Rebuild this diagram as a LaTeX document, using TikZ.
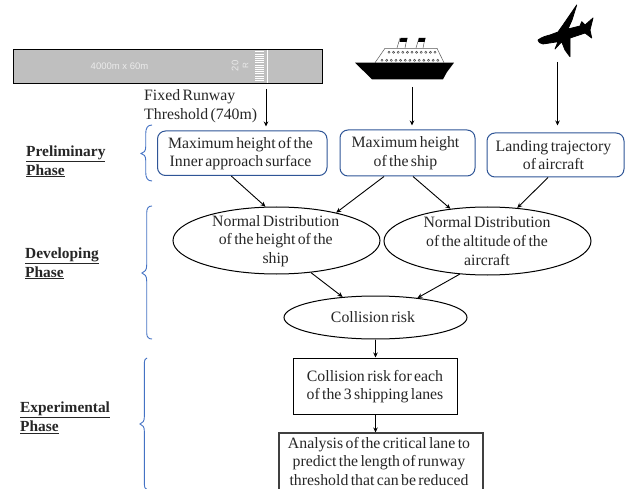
\documentclass[tikz,border=0pt]{standalone}
\usepackage{fontspec}
\setmainfont[WordSpace=0.6]{Liberation Serif}
\newfontfamily\rwfont{Liberation Sans}
\usetikzlibrary{arrows.meta,shapes.geometric}
\definecolor{boxblue}{HTML}{2F5597}
\definecolor{braceblue}{HTML}{4472C4}
\tikzset{
  flowtext/.style={font=\fontsize{15.8}{18.7}\selectfont,align=center,text=black!85,inner sep=0pt},
  phase/.style={font=\fontsize{15.4}{18.7}\selectfont\bfseries,align=left,text=black!85,inner sep=0pt,anchor=west},
  roundbox/.style={draw=boxblue,line width=1pt,rounded corners=8pt,fill=white,inner sep=0pt},
  oval/.style={draw=black,line width=1pt,ellipse,inner sep=0pt,fill=white},
  sqbox/.style={draw=black,line width=1pt,inner sep=0pt},
  arr/.style={draw=black,line width=0.9pt,-{Stealth[length=5pt,width=4.5pt]}},
  brc/.style={draw=braceblue,line width=0.9pt},
  port/.style={draw=black!75,line width=0.45pt},
  rwtext/.style={text=white!92!black,font=\rwfont\fontsize{9.5}{10}\selectfont,inner sep=0pt}
}
\begin{document}
\begin{tikzpicture}[x=1pt,y=-1pt]
\clip (0,0) rectangle (629,489);
\fill[white] (0,0) rectangle (629,489);

% runway
\node[draw=black,line width=1.5pt,fill=black!25,minimum width=309pt,minimum height=34pt,inner sep=0pt] (runway) at (168,66.5) {};
\foreach \yy in {52,54.2,...,81}{\draw[white,line width=1pt] (255,\yy) -- (264,\yy);}
\draw[white,line width=0.9pt] (267,50) -- (267,83);
\node[rwtext] (rwsize) at (119.5,66) {4000m x 60m};
\node[rwtext,rotate=90] (rw20) at (235,66) {20};
\node[rwtext,rotate=90,font=\rwfont\fontsize{8}{10}\selectfont] (rwR) at (245.5,66) {R};

% ship
\draw[black!65,line width=0.5pt] (375,62.7) -- (385,48.3) -- (437,48.3) -- (444,62.7);
\draw[black!65,line width=0.5pt] (397,48) -- (400,38) (405,48) -- (407,38) (416,48) -- (419,38) (423,48) -- (425,38);
\fill[black] (399.5,42) -- (400.5,38) -- (407.5,38) -- (406.5,42) -- cycle;
\fill[black] (418,42) -- (419,38) -- (425.5,38) -- (424.5,42) -- cycle;
\foreach \i in {0,...,10}{\draw[port] ({389+\i*4.6},52.3) circle (1.1pt);}
\foreach \i in {0,...,12}{\draw[port] ({382+\i*4.65},60.3) circle (1.1pt);}
\fill[black] (355,62.7) -- (454,62.7) -- (447,72) -- (443,79.3) -- (372,79.3) -- cycle;

% aircraft
\fill[black,line join=round,draw=black,line width=0.8pt]
  (538,40) .. controls (542,37) and (546,36) .. (550,35) -- (558,32) -- (563,25)
  -- (576.7,5) -- (572,20) -- (568,29) -- (580,26) -- (581.7,21.7) -- (585,25)
  -- (593,18) -- (590,30) -- (591.7,38) -- (585,33) -- (570,38) -- (570,56.7)
  -- (565,50) -- (561.7,41.7) -- (555,49) -- (558,41.7) -- (543,44) .. controls (540,43.5) and (538,42) .. (538,40) -- cycle;

\coordinate (rwarrow) at (266,89);
\coordinate (shiparrow) at (412,87);
\coordinate (planearrow) at (557.5,62);

% labels
\node[flowtext,align=left,anchor=west] (thr) at (144,106.5) {Fixed Runway\\Threshold (740m)};
\node[phase] (ph1) at (26,161.5) {\underline{Preliminary}\\\underline{Phase}};
\node[phase] (ph2) at (25,263.5) {\underline{Developing}\\\underline{Phase}};
\node[phase] (ph3) at (20,418) {\underline{Experimental}\\\underline{Phase}};

% braces
\draw[brc] (152,125) .. controls (147.5,125) and (145.7,128) .. (145.7,134) -- (145.7,147) .. controls (145.7,151) and (144,153) .. (141,153.5) .. controls (144,154) and (145.7,156) .. (145.7,160) -- (145.7,172) .. controls (145.7,178) and (147.5,181) .. (152,181);
\draw[brc] (152,206) .. controls (148.5,206) and (146.7,208) .. (146.7,213) -- (146.7,265) .. controls (146.7,270) and (145,272) .. (142,273) .. controls (145,274) and (146.7,276) .. (146.7,281) -- (146.7,333) .. controls (146.7,337) and (148.5,339) .. (152,339);
\draw[brc] (147,358) .. controls (145.5,358) and (144.3,360) .. (144.3,364) -- (144.3,417) .. controls (144.3,421) and (143,423) .. (140,424) .. controls (143,425) and (144.3,427) .. (144.3,431) -- (144.3,484) .. controls (144.3,487) and (145,489) .. (146.5,489);

% top row
\node[roundbox,minimum width=169.5pt,minimum height=44.5pt] (box1) at (242.25,153.25) {};
\node[roundbox,minimum width=135pt,minimum height=46pt] (box2) at (407.5,153) {};
\node[roundbox,minimum width=137pt,minimum height=44pt] (box3) at (555.5,155) {};
\node[flowtext] (box1t) at (240.5,153.5) {Maximum height of the\\Inner approach surface};
\node[flowtext] (box2t) at (405.5,153.5) {Maximum height\\of the ship};
\node[flowtext] (box3t) at (553.5,155) {Landing trajectory\\of aircraft};

% ellipses
\node[oval,minimum width=207pt,minimum height=67pt] (e1) at (276.5,240.5) {};
\node[oval,minimum width=207pt,minimum height=68pt] (e2) at (487.5,241) {};
\node[oval,minimum width=183pt,minimum height=43pt] (e3) at (375.5,317.5) {};
\node[flowtext] (e1t) at (275.7,241) {Normal Distribution\\of the height of the\\ship};
\node[flowtext] (e2t) at (487,241) {Normal Distribution\\of the altitude of the\\aircraft};
\node[flowtext] (e3t) at (373,317) {Collision risk};

% rectangles
\node[sqbox,minimum width=164pt,minimum height=56pt] (r1) at (375.5,386) {};
\node[sqbox,draw=black!75,line width=1.1pt,minimum width=204pt,minimum height=62pt] (r2) at (381,464) {};
\node[flowtext] (r1t) at (375,386.5) {Collision risk for each\\of the 3 shipping lanes};
\node[flowtext] (r2t) at (379,461.5) {Analysis of the critical lane to\\predict the length of runway\\threshold that can be reduced};

% connectors
\draw[arr,shorten >=4pt] (rwarrow) -- (rwarrow |- box1.north);
\draw[arr,shorten >=4pt] (shiparrow) -- (shiparrow |- box2.north);
\draw[arr,shorten >=7pt] (planearrow) -- (planearrow |- box3.north);
\draw[arr] ([xshift=-11pt]box1.south) -- (e1.108);
\draw[arr] ([xshift=-23.5pt]box2.south) -- (e1.25);
\draw[arr] ([xshift=5.5pt]box2.south) -- (e2.139);
\draw[arr] ([xshift=-7.5pt]box3.south) -- (e2.48);
\draw[arr] (e1.-43) -- (e3.148);
\draw[arr] (e2.230) -- (e3.25);
\draw[arr] (e3.south) -- (r1.north);
\draw[arr] (r1.south) -- (r2.north -| r1.south);
\end{tikzpicture}
\end{document}
